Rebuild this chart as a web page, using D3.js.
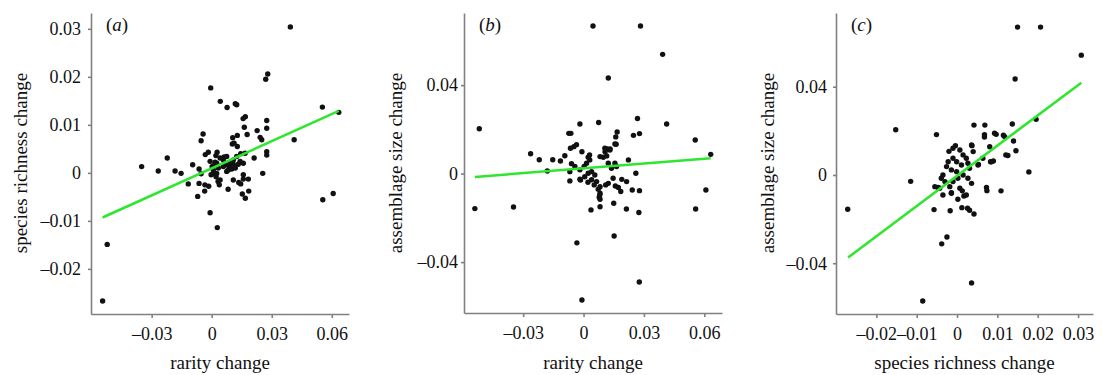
<!DOCTYPE html>
<html>
<head>
<meta charset="utf-8">
<script src="https://cdn.jsdelivr.net/npm/d3@7"></script>
<style>
  body { margin: 0; background: #fff; }
  svg { display: block; }
  .axis path, .axis line { stroke: #808080; stroke-width: 1.6; }
  .axis text, .title { font-family: "Liberation Serif", "DejaVu Serif", "Noto Serif", "Times New Roman", Times, serif; fill: #111; }
  .axis text { font-size: 18px; }
  .title { font-size: 19px; }
</style>
</head>
<body>
<div id="chart"></div>
<script>
// (a) rarity change vs species richness change
const pointsA = [
  [0.0393,0.0304],[0.028,0.0206],[0.027,0.0195],[-0.0005,0.0177],[0.0043,0.0149],[0.0118,0.0144],
  [0.0125,0.0142],[0.0077,0.0136],[0.0553,0.0137],[0.0635,0.0126],[0.0168,0.0117],[0.0157,0.0113],
  [0.0275,0.0109],[0.0163,0.0095],[0.0275,0.0093],[0.0227,0.0088],[-0.0043,0.0081],[0.0177,0.008],
  [0.0128,0.0078],[0.0242,0.0074],[0.0105,0.0073],[-0.0053,0.0067],[0.0412,0.0069],[0.025,0.0069],
  [0.0103,0.006],[0.0128,0.0055],[0.0027,0.0043],[-0.0017,0.0043],[-0.0032,0.0038],[0.0275,0.0044],
  [0.0275,0.0037],[0.0167,0.0041],[0.0145,0.004],[-0.0222,0.0031],[0.0062,0.0033],[0.0212,0.0031],
  [-0.035,0.0013],[-0.0095,0.0017],[-0.0008,0.0024],[0.0017,0.0022],[-0.0267,0.0004],[-0.0183,0.0004],
  [-0.0153,-0.0001],[-0.0063,0.0008],[0.0008,0.0015],[0.0033,0.001],[0.0072,0.0017],[0.0088,0.0013],
  [0.0108,0.0018],[0.0133,0.0018],[0.0158,0.002],[0.01,0.0008],[0.0075,0.0003],[0.0008,-0.0002],
  [-0.0053,-0.0002],[-0.0003,-0.0004],[0.0022,-0.0008],[0.0255,-0.0001],[0.0158,-0.0004],[-0.0117,-0.0023],
  [-0.0063,-0.0022],[0.0032,-0.0018],[0.0042,-0.0015],[0.0108,-0.0015],[0.0135,-0.002],[0.0183,-0.0013],
  [0.0145,-0.0023],[0.0158,-0.0013],[-0.0015,-0.0028],[-0.0035,-0.0038],[0.0082,-0.0034],[0.0185,-0.0038],
  [0.0153,-0.0044],[-0.007,-0.0049],[0.0168,-0.0053],[0.0555,-0.0056],[0.0607,-0.0043],[-0.0008,-0.0083],
  [0.0028,-0.0114],[-0.0522,-0.0149],[-0.0545,-0.0267],
  [0.0021,0.0036],[0.0002,0.0013],[0.0008,0.0006],[0.0025,0.002],[0.0042,0.0031],[0.0058,0.0027],
  [0.0075,0.0034],[0.0092,0.002],[0.0108,0.0027],[0.0125,0.0034],[0.0142,0.0024],[0.0058,0.0013],
  [0.0083,0.0006],[0.0118,0.001],[0.0025,-0.0001],[0.0038,-0.0025],[-0.0034,-0.0025],[0.0112,0.0062]
];
// (b) rarity change vs assemblage size change
const pointsB = [
  [0.0047,0.0667],[0.0283,0.0667],[0.0393,0.0539],[0.0123,0.0432],[0.0268,0.0249],[0.0075,0.0231],
  [-0.0018,0.0224],[0.0413,0.0224],[-0.0518,0.0203],[0.0167,0.0188],[0.016,0.0166],[0.0278,0.0181],
  [0.0248,0.0173],[-0.0073,0.0182],[-0.0063,0.0182],[0.0555,0.0152],[0.0162,0.0133],[-0.0035,0.0131],
  [-0.0048,0.0122],[-0.0065,0.0115],[0.0118,0.0111],[0.0132,0.0111],[0.0107,0.0099],[-0.0008,0.0099],
  [-0.0263,0.009],[0.003,0.0084],[0.0023,0.0074],[-0.0093,0.0081],[-0.022,0.0063],[-0.0153,0.0063],
  [-0.0115,0.0057],[0.0082,0.0077],[0.0098,0.0074],[0.0115,0.008],[0.0223,0.0062],[0.0632,0.0087],
  [-0.006,0.0045],[-0.018,0.0012],[0.026,0.0002],[-0.0068,-0.0033],[-0.0015,-0.0029],[0.019,-0.0026],
  [0.0022,-0.0039],[0.0123,-0.0044],[0.011,-0.0051],[0.0065,-0.0036],[0.0082,-0.0059],[0.0073,-0.0071],
  [0.0082,-0.0089],[0.0078,-0.0107],[0.0082,-0.0116],[0.0158,-0.0056],[0.0173,-0.0063],[0.0185,-0.0081],
  [0.0242,-0.0074],[0.0278,-0.0077],[0.0608,-0.0074],[0.015,-0.0134],[0.0082,-0.015],[0.0037,-0.0164],
  [-0.054,-0.0158],[-0.0348,-0.0151],[0.0213,-0.016],[0.0275,-0.0176],[0.0557,-0.016],[0.0152,-0.0282],
  [-0.0033,-0.0313],[0.0277,-0.049],[-0.0008,-0.0571],
  [0.0015,0.0047],[0.0003,0.0032],[-0.0018,0.0017],[-0.0043,0.0032],[-0.0068,0.0009],[-0.0018,-0.0025],
  [0.0006,-0.0014],[0.0023,0.0002],[0.004,0.0009],[0.0056,-0.0006],[0.004,-0.0028],[0.0053,-0.0051],
  [0.0147,-0.0021],[0.0139,0.0024],[0.0123,0.0047],[0.0156,0.0047],[0.0164,0.0032],[0.0214,-0.0036],
  [0.0131,0.0107],[0.0106,0.0115],[0.0156,0.0134],[0.0031,0.0062],[0.0081,-0.0096]
];
// (c) species richness change vs assemblage size change
const pointsC = [
  [0.015,0.067],[0.0207,0.067],[0.0308,0.0543],[0.0144,0.0435],[0.0196,0.0252],[-0.0152,0.0205],
  [0.0042,0.0226],[0.0069,0.0226],[0.0137,0.0231],[-0.0051,0.0183],[0.0068,0.0183],[0.0068,0.0172],
  [0.0093,0.0189],[0.0097,0.0184],[0.0115,0.018],[0.0118,0.0174],[0.014,0.0154],[0.0037,0.0133],
  [0.0081,0.0128],[-0.0004,0.0133],[-0.002,0.0107],[0.0146,0.011],[0.0126,0.0088],[0.0083,0.006],
  [0.009,0.0063],[0.0053,0.0048],[0.0178,0.0014],[-0.0115,-0.0029],[-0.0271,-0.0155],[-0.0055,-0.0053],
  [-0.0047,-0.0057],[0.0073,-0.0057],[0.0074,-0.0071],[0.0109,-0.0072],[-0.0014,-0.008],[0.0013,-0.0072],
  [0.0017,-0.0095],[0.0002,-0.011],[-0.0057,-0.0157],[-0.0017,-0.0162],[0.0012,-0.0148],[0.0026,-0.0151],
  [0.0031,-0.016],[0.0042,-0.0177],[-0.0025,-0.0281],[-0.0038,-0.0312],[0.0036,-0.0489],[-0.0085,-0.0571],
  [-0.001,0.0121],[0.0007,0.0113],[0.0015,0.0091],[0.0023,0.0076],[0.0027,0.0053],[0.0036,0.0136],
  [0.004,0.0106],[0.0031,0.003],[0.0011,0.0045],[-0.0001,0.006],[-0.001,0.0076],[-0.0022,0.006],
  [-0.0026,0.0038],[-0.0014,0.0023],[-0.0001,0.0015],[-0.0035,0],[-0.003,-0.003],[-0.0039,-0.0015],
  [-0.0043,-0.006],[-0.0018,-0.0053],[-0.001,-0.003],[0.0002,-0.0015],[0.0015,0],[0.0027,-0.0015],
  [0.0036,-0.0038],[0.0007,-0.006],[0.0023,-0.0091],[-0.0014,-0.0083],[-0.0035,-0.0091],[0.0052,0.0045],
  [0.0064,0.0076],[0.0085,0.006],[0.0121,0.0091]
];

// fitted lines: end points in data units
const fitA = [[-0.0545, -0.0093], [0.0635, 0.0129]];
const fitB = [[-0.054, -0.0015], [0.0632, 0.0069]];
const fitC = [[-0.027, -0.0374], [0.0308, 0.0418]];

const ticksRarity = [-0.03, 0, 0.03, 0.06];
const ticksRichness = [-0.02, -0.01, 0, 0.01, 0.02, 0.03];
const ticksSize = [-0.04, 0, 0.04];

const panels = [
  { tag: 'a', points: pointsA, fit: fitA, xDomain: [-0.0603, 0.0686], yDomain: [-0.0294, 0.0333],
    xTicks: ticksRarity, yTicks: ticksRichness, xTitle: 'rarity change', yTitle: 'species richness change',
    left: 91, right: 349, bottom: 314, labelGap: 7, yTitleX: 20 },
  { tag: 'b', points: pointsB, fit: fitB, xDomain: [-0.0594, 0.0688], yDomain: [-0.063, 0.0726],
    xTicks: ticksRarity, yTicks: ticksSize, xTitle: 'rarity change', yTitle: 'assemblage size change',
    left: 464, right: 722, bottom: 313, labelGap: 3, yTitleX: 395 },
  { tag: 'c', points: pointsC, fit: fitC, xDomain: [-0.030, 0.0337], yDomain: [-0.063, 0.0734],
    xTicks: ticksRichness, yTicks: ticksSize, xTitle: 'species richness change', yTitle: 'assemblage size change',
    left: 836, right: 1093, bottom: 314, labelGap: 6, yTitleX: 767 }
];

const plotTop = 13;
const fmt = v => v === 0 ? '0' : (v < 0 ? '\u2013' : '') + Math.abs(v).toFixed(2);

const svg = d3.select('#chart').append('svg')
  .attr('width', 1102)
  .attr('height', 375);

panels.forEach(p => {
  const x = d3.scaleLinear().domain(p.xDomain).range([p.left, p.right]);
  const y = d3.scaleLinear().domain(p.yDomain).range([p.bottom, plotTop]);
  const g = svg.append('g');

  const xAxis = g.append('g')
    .attr('class', 'axis')
    .attr('transform', `translate(0, ${p.bottom})`)
    .call(d3.axisBottom(x).tickValues(p.xTicks).tickFormat(fmt).tickSize(4).tickSizeOuter(0));
  xAxis.selectAll('text').attr('y', 26).attr('dy', null);

  g.append('g')
    .attr('class', 'axis')
    .attr('transform', `translate(${p.left}, 0)`)
    .call(d3.axisLeft(y).tickValues(p.yTicks).tickFormat(fmt).tickSize(3).tickSizeOuter(0).tickPadding(p.labelGap));

  // d3 puts font-family="sans-serif" on axis groups; drop it so the css face applies
  g.selectAll('.axis').attr('font-family', null).attr('font-size', null);

  g.append('text')
    .attr('class', 'title')
    .attr('x', (p.left + p.right) / 2)
    .attr('y', 369)
    .attr('text-anchor', 'middle')
    .text(p.xTitle);

  g.append('text')
    .attr('class', 'title')
    .attr('transform', `translate(${p.yTitleX}, 163) rotate(-90)`)
    .attr('dy', '0.35em')
    .attr('text-anchor', 'middle')
    .text(p.yTitle);

  const lab = g.append('text')
    .attr('class', 'title')
    .attr('x', p.left + 15)
    .attr('y', 31);
  lab.append('tspan').text('(');
  lab.append('tspan').attr('font-style', 'italic').text(p.tag);
  lab.append('tspan').text(')');

  g.selectAll('circle.pt')
    .data(p.points)
    .enter()
    .append('circle')
    .attr('class', 'pt')
    .attr('cx', d => x(d[0]))
    .attr('cy', d => y(d[1]))
    .attr('r', 2.7)
    .attr('fill', '#111');

  g.append('line')
    .attr('x1', x(p.fit[0][0]))
    .attr('y1', y(p.fit[0][1]))
    .attr('x2', x(p.fit[1][0]))
    .attr('y2', y(p.fit[1][1]))
    .attr('stroke', '#2ee62e')
    .attr('stroke-width', 2.5);
});
</script>
</body>
</html>
